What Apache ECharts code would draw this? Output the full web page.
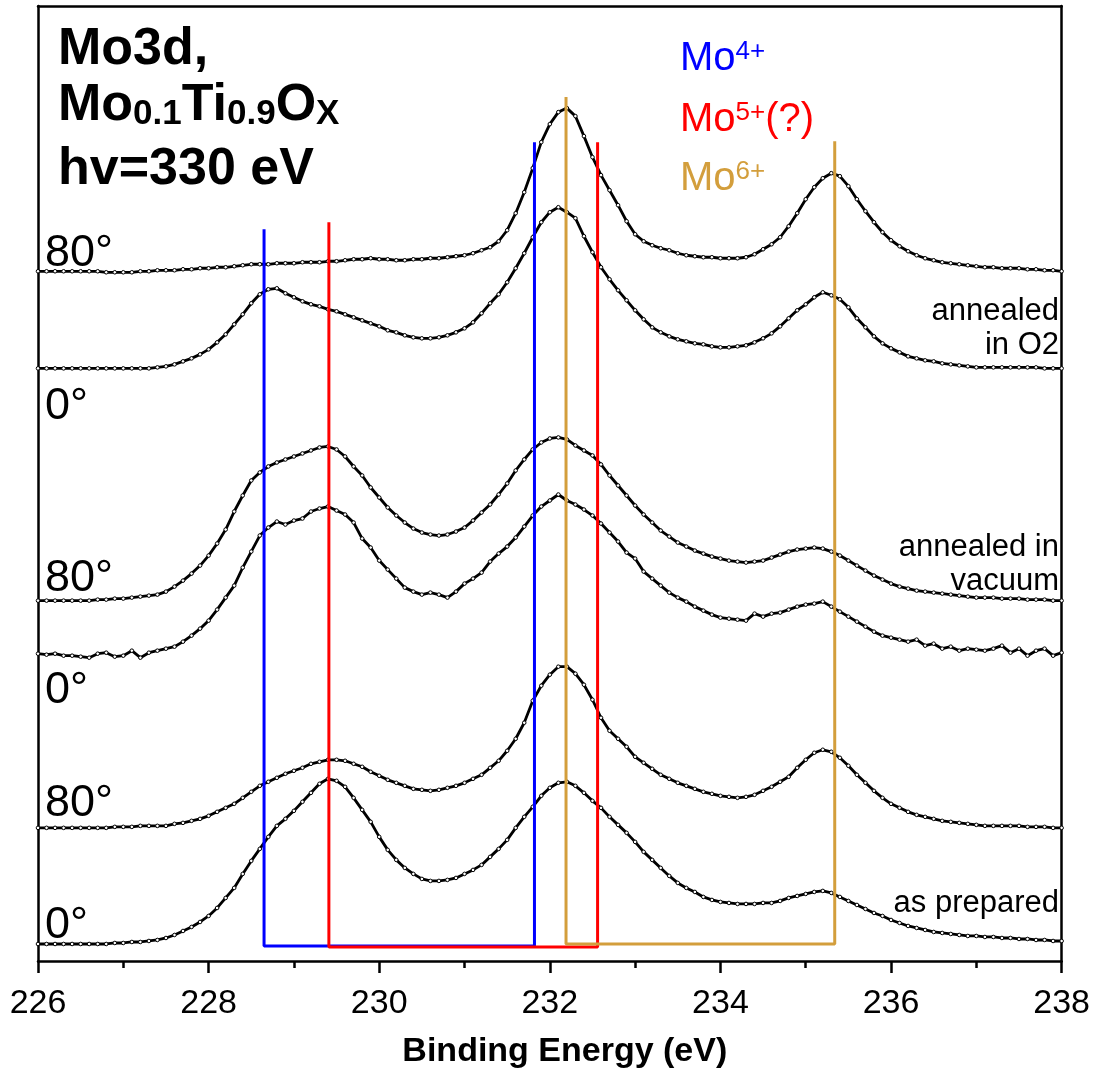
<!DOCTYPE html>
<html>
<head>
<meta charset="utf-8">
<script src="https://cdn.jsdelivr.net/npm/echarts@6/dist/echarts.min.js"></script>
<style>
  html, body { margin: 0; padding: 0; background: #fff; }
  #chart { width: 1093px; height: 1077px; }
</style>
</head>
<body>
<div id="chart"></div>
<script>
// Mo 3d photoemission spectra, Mo0.1Ti0.9Ox, hv = 330 eV.
// Binding energy grid: 226.0 ... 238.0 eV in 0.1 eV steps.
const energy = [];
for (let i = 0; i <= 120; i++) energy.push(+(226 + i * 0.1).toFixed(1));

// Intensities (arb. units, curves already vertically offset)
const o2_80 = [
  68.9,68.9,68.9,68.9,68.9,68.9,68.9,68.9,68.8,68.8,
  68.8,68.8,68.9,68.9,69.0,69.0,69.0,69.1,69.1,69.2,
  69.2,69.3,69.3,69.4,69.5,69.6,69.6,69.6,69.7,69.7,
  69.7,69.8,69.8,69.8,69.9,69.9,70.0,70.1,70.1,70.2,
  70.1,70.1,70.0,70.0,70.1,70.1,70.2,70.2,70.3,70.4,
  70.5,70.7,71.0,71.3,71.9,73.0,74.7,76.8,79.2,81.8,
  83.6,84.8,85.2,84.4,82.4,80.3,78.5,77.0,75.5,73.9,
  72.6,71.9,71.5,71.2,71.0,70.7,70.5,70.4,70.3,70.3,
  70.2,70.2,70.2,70.3,70.6,71.1,71.6,72.3,73.4,74.7,
  76.1,77.3,78.2,78.7,78.4,77.4,76.1,74.9,73.8,72.8,
  72.0,71.4,70.9,70.5,70.2,70.0,69.8,69.7,69.6,69.5,
  69.4,69.3,69.3,69.2,69.2,69.2,69.1,69.1,69.0,69.0,
  68.9
];
const o2_0 = [
  59.2,59.2,59.2,59.2,59.2,59.2,59.2,59.2,59.2,59.2,
  59.2,59.2,59.2,59.2,59.3,59.4,59.6,59.9,60.2,60.6,
  61.1,61.8,62.6,63.6,64.6,65.7,66.6,67.1,67.2,66.7,
  66.3,65.9,65.6,65.4,65.1,64.9,64.6,64.3,64.0,63.7,
  63.4,63.0,62.8,62.5,62.3,62.2,62.2,62.3,62.5,62.8,
  63.2,63.8,64.7,65.7,66.6,67.8,69.2,70.7,72.3,73.8,
  74.8,75.3,74.8,74.2,72.4,70.8,69.3,68.1,67.0,66.0,
  65.0,64.1,63.3,62.8,62.4,62.1,61.9,61.7,61.6,61.4,
  61.3,61.3,61.4,61.5,61.8,62.2,62.7,63.4,64.2,65.0,
  65.6,66.3,66.8,66.5,66.1,65.3,64.2,63.3,62.4,61.7,
  61.2,60.8,60.4,60.2,60.0,59.9,59.7,59.6,59.5,59.4,
  59.3,59.3,59.3,59.3,59.3,59.3,59.3,59.3,59.2,59.2,
  59.2
];
const vac_80 = [
  36.0,36.0,36.0,36.0,36.0,36.0,36.0,36.1,36.1,36.2,
  36.2,36.3,36.4,36.5,36.6,36.9,37.4,38.0,38.7,39.5,
  40.5,41.7,43.1,44.9,46.5,48.0,48.8,49.4,49.8,50.1,
  50.4,50.7,51.0,51.3,51.4,51.1,50.4,49.4,48.5,47.3,
  46.3,45.3,44.5,43.8,43.2,42.8,42.6,42.5,42.6,42.9,
  43.3,44.0,44.8,45.6,46.6,47.7,49.0,50.1,51.1,51.8,
  52.2,52.3,52.1,51.5,51.0,50.5,49.6,48.5,47.5,46.5,
  45.5,44.6,43.8,43.0,42.4,41.8,41.4,41.0,40.7,40.4,
  40.2,40.0,39.9,39.8,39.9,40.0,40.3,40.6,40.9,41.1,
  41.2,41.3,41.2,40.9,40.5,40.0,39.5,39.0,38.5,38.1,
  37.7,37.4,37.2,37.0,36.9,36.8,36.7,36.6,36.5,36.4,
  36.3,36.3,36.3,36.2,36.2,36.2,36.1,36.1,36.1,36.0,
  36.0
];
const vac_0 = [
  30.7,30.6,30.7,30.5,30.5,30.4,30.3,30.7,30.8,30.4,
  30.5,31.0,30.3,30.8,31.0,31.2,31.4,31.9,32.5,33.2,
  34.0,35.1,36.3,37.5,39.3,40.9,42.5,43.3,43.9,43.6,
  44.0,44.2,44.9,45.2,45.4,45.0,44.6,43.8,42.2,41.3,
  40.0,39.1,38.2,37.3,36.9,36.6,36.8,36.6,36.3,36.9,
  37.7,38.2,38.8,39.9,40.7,41.4,42.3,43.4,44.5,45.4,
  46.0,46.6,46.0,45.6,45.1,44.5,43.7,42.8,41.9,40.8,
  40.2,38.9,38.2,37.5,36.8,36.3,35.9,35.4,35.0,34.6,
  34.3,34.2,34.1,34.0,34.7,34.4,34.7,34.8,35.1,35.4,
  35.6,35.7,35.9,35.4,34.9,34.4,33.9,33.4,32.9,32.5,
  32.3,32.1,31.9,32.1,31.5,31.7,31.2,31.4,31.0,31.2,
  31.1,31.0,31.2,31.5,30.8,31.2,30.5,31.0,31.2,30.5,
  30.8
];
const prep_80 = [
  13.3,13.3,13.3,13.3,13.3,13.3,13.3,13.3,13.3,13.4,
  13.4,13.4,13.5,13.5,13.5,13.5,13.7,13.8,14.0,14.2,
  14.5,14.9,15.3,15.7,16.3,16.9,17.5,17.9,18.3,18.7,
  19.0,19.3,19.7,19.9,20.1,20.1,20.0,19.7,19.4,18.9,
  18.5,18.1,17.8,17.5,17.2,17.1,17.0,17.1,17.3,17.5,
  17.8,18.2,18.6,19.3,20.0,21.0,22.2,23.8,26.0,27.5,
  28.6,29.4,29.4,28.7,27.6,26.1,24.3,23.0,22.2,21.4,
  20.4,19.8,19.2,18.6,18.2,17.8,17.5,17.2,16.9,16.7,
  16.5,16.4,16.3,16.4,16.6,17.0,17.4,17.9,18.4,19.3,
  20.1,20.8,21.1,20.9,20.3,19.5,18.6,17.8,17.0,16.3,
  15.7,15.3,14.9,14.6,14.4,14.2,14.0,13.9,13.8,13.7,
  13.6,13.5,13.5,13.5,13.5,13.5,13.4,13.4,13.4,13.3,
  13.3
];
const prep_0 = [
  1.7,1.7,1.7,1.7,1.7,1.7,1.7,1.7,1.7,1.8,
  1.8,1.9,1.9,2.0,2.1,2.3,2.6,3.0,3.4,3.9,
  4.5,5.3,6.3,7.3,8.7,10.0,11.2,12.4,13.5,14.2,
  15.0,15.9,16.8,17.7,18.2,18.0,17.4,16.3,15.1,13.9,
  12.4,11.1,10.1,9.3,8.7,8.2,8.0,8.0,8.1,8.3,
  8.7,9.1,9.6,10.4,11.2,12.1,13.3,14.4,15.4,16.5,
  17.3,17.8,17.9,17.5,16.8,16.0,15.3,14.4,13.6,12.8,
  11.9,10.9,10.1,9.3,8.5,7.8,7.3,6.9,6.4,6.1,
  5.9,5.8,5.7,5.7,5.7,5.8,5.8,6.0,6.3,6.5,
  6.7,6.9,7.0,6.8,6.4,6.0,5.6,5.2,4.8,4.5,
  4.1,3.8,3.5,3.3,3.1,2.9,2.8,2.7,2.6,2.5,
  2.5,2.4,2.4,2.3,2.3,2.2,2.2,2.1,2.1,2.0,
  2.0
];

// Oxidation-state markers: 3d5/2 and 3d3/2 positions joined at the base
const stateColors = ['#0000ff', '#ff0000', '#d39e3c'];
const stateLow = [228.65, 229.41, 232.19];
const stateHigh = [231.82, 232.56, 235.34];
const stateLowTop = [73.1, 73.8, 86.3];
const stateHighTop = [81.8, 81.8, 81.9];
const stateBase = [1.5, 1.4, 1.7];

// Axis ticks
const xMin = 226, xMax = 238, xStep = 2;

const FONT = '"Liberation Sans", Arial, Helvetica, sans-serif';

const spectra = [o2_80, o2_0, vac_80, vac_0, prep_80, prep_0];

const series = spectra.map(vals => ({
  type: 'line',
  data: energy.map((e, i) => [e, vals[i]]),
  symbol: 'circle',
  symbolSize: 3.6,
  showAllSymbol: true,
  itemStyle: { color: '#ffffff', borderColor: '#000000', borderWidth: 1 },
  lineStyle: { color: '#000000', width: 2.8 },
  silent: true,
  animation: false,
  z: 2
}));

stateLow.forEach((lo, k) => {
  series.push({
    type: 'line',
    data: [[lo, stateLowTop[k]], [lo, stateBase[k]], [stateHigh[k], stateBase[k]], [stateHigh[k], stateHighTop[k]]],
    symbol: 'none',
    lineStyle: { color: stateColors[k], width: 3 },
    silent: true,
    animation: false,
    z: 3
  });
});

function txt(left, top, text, size, opts) {
  opts = opts || {};
  const el = {
    type: 'text',
    top: top,
    z: 10,
    silent: true,
    style: {
      text: text,
      fill: opts.color || '#000',
      font: (opts.bold ? 'bold ' : '') + size + 'px ' + FONT
    }
  };
  if (opts.right !== undefined) el.right = opts.right; else el.left = left;
  return el;
}

function supText(left, top, base, sup, tail, color) {
  return {
    type: 'text', left: left, top: top, z: 10, silent: true,
    style: {
      text: '{m|' + base + '}{s|' + sup + '}' + (tail ? '{m|' + tail + '}' : ''),
      rich: {
        m: { fill: color, fontSize: 40, fontFamily: FONT, lineHeight: 40 },
        s: { fill: color, fontSize: 26, fontFamily: FONT, lineHeight: 32, verticalAlign: 'top' }
      }
    }
  };
}

const graphic = [
  txt(58, 24, 'Mo3d,', 52, { bold: true }),
  {
    type: 'text', left: 58, top: 80, z: 10, silent: true,
    style: {
      text: '{m|Mo}{s|0.1}{m|Ti}{s|0.9}{m|O}{s|X}',
      rich: {
        m: { fill: '#000', fontSize: 52, fontWeight: 'bold', fontFamily: FONT, lineHeight: 52 },
        s: { fill: '#000', fontSize: 35, fontWeight: 'bold', fontFamily: FONT, lineHeight: 15, verticalAlign: 'bottom' }
      }
    }
  },
  txt(58, 144, 'hv=330 eV', 52, { bold: true }),

  supText(680, 39, 'Mo', '4+', '', '#0000ff'),
  supText(680, 100, 'Mo', '5+', '(?)', '#ff0000'),
  supText(680, 159, 'Mo', '6+', '', '#d39e3c'),

  txt(45, 231, '80°', 45),
  txt(45, 384, '0°', 45),
  txt(45, 556, '80°', 45),
  txt(45, 668, '0°', 45),
  txt(45, 781, '80°', 45),
  txt(45, 903, '0°', 45),

  txt(0, 296, 'annealed', 31, { right: 34 }),
  txt(0, 330, 'in O2', 31, { right: 34 }),
  txt(0, 532, 'annealed in', 31, { right: 34 }),
  txt(0, 566, 'vacuum', 31, { right: 34 }),
  txt(0, 888, 'as prepared', 31, { right: 34 })
];

const chart = echarts.init(document.getElementById('chart'), null, { renderer: 'canvas' });
chart.setOption({
  animation: false,
  backgroundColor: '#ffffff',
  grid: { left: 38, right: 31, top: 6, bottom: 116, containLabel: false },
  xAxis: [
    {
      type: 'value', min: xMin, max: xMax, interval: xStep, position: 'bottom',
      axisLine: { show: true, onZero: false, lineStyle: { color: '#000', width: 2.5 } },
      axisTick: { show: true, inside: false, length: 12, lineStyle: { color: '#000', width: 2.5 } },
      minorTick: { show: true, splitNumber: 2, length: 7, lineStyle: { color: '#000', width: 2.5 } },
      axisLabel: { color: '#000', fontSize: 34, fontFamily: FONT, margin: 26 },
      splitLine: { show: false },
      name: 'Binding Energy (eV)',
      nameLocation: 'middle',
      nameGap: 74,
      nameTextStyle: { color: '#000', fontSize: 34, fontWeight: 'bold', fontFamily: FONT, padding: [0, 0, 0, 30] }
    },
    {
      type: 'value', min: xMin, max: xMax, position: 'top',
      axisLine: { show: true, onZero: false, lineStyle: { color: '#000', width: 2.5 } },
      axisTick: { show: false }, axisLabel: { show: false }, splitLine: { show: false }
    }
  ],
  yAxis: [
    {
      type: 'value', min: 0, max: 95.4, position: 'left',
      axisLine: { show: true, onZero: false, lineStyle: { color: '#000', width: 2.5 } },
      axisTick: { show: false }, axisLabel: { show: false }, splitLine: { show: false }
    },
    {
      type: 'value', min: 0, max: 95.4, position: 'right',
      axisLine: { show: true, onZero: false, lineStyle: { color: '#000', width: 2.5 } },
      axisTick: { show: false }, axisLabel: { show: false }, splitLine: { show: false }
    }
  ],
  series: series,
  graphic: graphic
});
</script>
</body>
</html>
